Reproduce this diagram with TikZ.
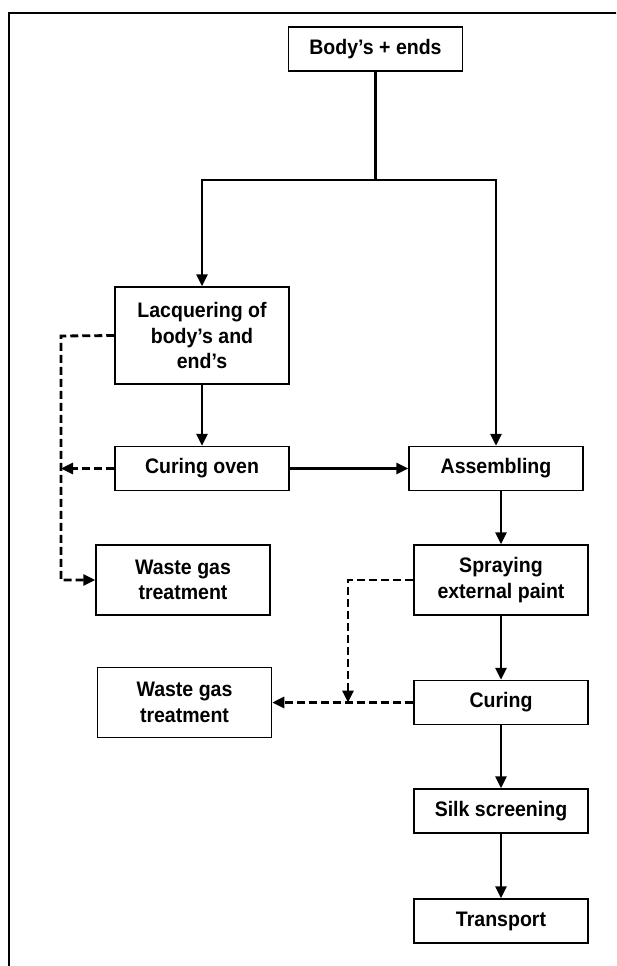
\documentclass[tikz,border=0pt]{standalone}
\usepackage{fontspec}
\setmainfont{Liberation Sans}[FakeStretch=0.93]
\usetikzlibrary{arrows.meta}

\tikzset{
  box/.style={draw, line width=1.5, minimum width=174, inner sep=0, align=center,
    font=\bfseries\fontsize{21}{25.5}\selectfont},
  lowbox/.style={box, minimum height=44},
  midbox/.style={box, minimum height=70},
  highbox/.style={box, minimum height=97},
  flow/.style={line width=2.8, -{Triangle[length=12,width=11]}},
  gas/.style={line width=2.8, dash pattern=on 8 off 4, -{Triangle[length=12,width=11]}}
}

\begin{document}
\begin{tikzpicture}[x=1pt,y=1pt]
\useasboundingbox (0,0) rectangle (616,-966);
\clip (0,0) rectangle (616,-966);
\draw[line width=1.8] (9,-990) -- (9,-13) -- (640,-13);

\node[lowbox] (body) at (375.5,-49) {Body’s + ends};
\node[highbox] (lacq) at (202,-335.5) {Lacquering of\\body’s and\\end’s};
\node[lowbox] (oven) at (202,-468.5) {Curing oven};
\node[lowbox] (assem) at (496,-468.5) {Assembling};
\node[midbox] (waste1) at (183,-580) {Waste gas\\treatment};
\node[midbox] (spray) at (501,-580) {Spraying\\external paint};
\node[lowbox] (curing) at (501,-702.5) {Curing};
\node[midbox] (waste2) at (184.5,-702.5) {Waste gas\\treatment};
\node[lowbox] (silk) at (501,-811) {Silk screening};
\node[lowbox] (transport) at (501,-921) {Transport};

\coordinate (split) at (375.5,-180);
\coordinate (lbus) at (61,-336);
\coordinate (rbus) at (348,-580);

% main line
\draw[line width=2.8] (body) -- (split);
\draw[flow] (split) -| (lacq);
\draw[flow] (split) -| (assem);
\draw[flow] (lacq) -- (oven);
\draw[flow] (oven) -- (assem);
\draw[flow] (assem.south -| spray.north) -- (spray);
\draw[flow] (spray) -- (curing);
\draw[flow] (curing) -- (silk);
\draw[flow] (silk) -- (transport);

% waste gas
\draw[gas] (lacq.west) -- (lbus) |- (waste1.west);
\draw[gas] (oven.west) -- (oven.west -| lbus);
\draw[gas] (spray.west) -- (rbus) -- (rbus |- curing.west);
\draw[gas] (curing.west) -- (waste2.east);
\end{tikzpicture}
\end{document}
